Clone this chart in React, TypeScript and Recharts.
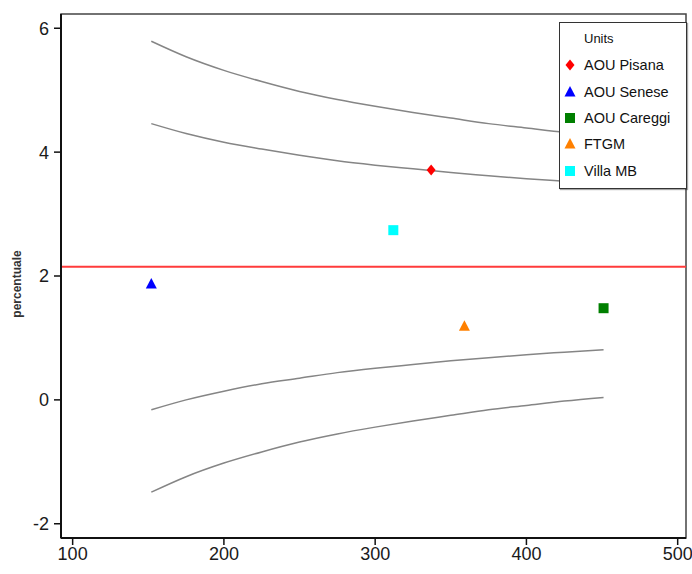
import React from "react";
import {
  ComposedChart,
  Line,
  Scatter,
  XAxis,
  YAxis,
  ReferenceLine,
  ReferenceArea,
  Legend,
  Label,
} from "recharts";

// Units: volume (x) and rate in percent (y)
const units = ["AOU Pisana", "AOU Senese", "AOU Careggi", "FTGM", "Villa MB"];
const volumes = [337, 152, 451, 359, 312];
const rates = [3.71, 1.87, 1.48, 1.19, 2.74];
const unitColors = ["#ff0000", "#0000ff", "#007f00", "#ff8000", "#00ffff"];
const unitShapes = ["diamond", "triangle", "square", "triangle", "square"];

// Overall rate
const meanRate = 2.15;

// Control limits of the funnel
const funnelN = [152, 175, 200, 225, 250, 275, 300, 325, 350, 375, 400, 425, 451];
const upper99 = [5.79, 5.54, 5.32, 5.14, 4.98, 4.85, 4.74, 4.64, 4.55, 4.46, 4.39, 4.32, 4.26];
const upper95 = [4.46, 4.3, 4.16, 4.05, 3.95, 3.86, 3.79, 3.73, 3.67, 3.62, 3.57, 3.53, 3.49];
const lower95 = [-0.16, 0.0, 0.14, 0.26, 0.35, 0.44, 0.51, 0.57, 0.63, 0.68, 0.73, 0.77, 0.81];
const lower99 = [-1.49, -1.24, -1.02, -0.84, -0.68, -0.55, -0.44, -0.34, -0.25, -0.16, -0.09, -0.02, 0.04];

const xTicks = [100, 200, 300, 400, 500];
const yTicks = [-2, 0, 2, 4, 6];
const xDomain = [92.3, 505.5];
const yDomain = [-2.23, 6.23];

const funnelRows = funnelN.map((n, i) => ({
  n,
  upper99: upper99[i],
  upper95: upper95[i],
  lower95: lower95[i],
  lower99: lower99[i],
}));

const FONT = "'Liberation Sans Narrow', 'Arial Narrow', 'Liberation Sans', Arial, sans-serif";
const LEGEND_FONT = "'Liberation Sans', Arial, sans-serif";

function Marker({ kind, cx, cy, color }: { kind: string; cx: number; cy: number; color: string }) {
  if (kind === "diamond") {
    return (
      <polygon
        points={`${cx},${cy - 5.5} ${cx + 4.5},${cy} ${cx},${cy + 5.5} ${cx - 4.5},${cy}`}
        fill={color}
      />
    );
  }
  if (kind === "triangle") {
    return (
      <polygon
        points={`${cx},${cy - 6} ${cx + 5.5},${cy + 4.5} ${cx - 5.5},${cy + 4.5}`}
        fill={color}
      />
    );
  }
  return <rect x={cx - 5} y={cy - 5} width={10} height={10} fill={color} />;
}

const renderLegend = () => (
  <div
    style={{
      width: 128,
      height: 167,
      boxSizing: "border-box",
      background: "#fff",
      border: "1.5px solid #333",
      boxShadow: "1px 1px 1px rgba(0,0,0,0.35)",
      paddingTop: 3,
      fontFamily: LEGEND_FONT,
      color: "#111",
    }}
  >
    <div style={{ height: 26.3, lineHeight: "26.3px", paddingLeft: 24, fontSize: 13 }}>Units</div>
    {units.map((u, i) => (
      <div
        key={u}
        style={{ height: 26.3, display: "flex", alignItems: "center", paddingLeft: 4, fontSize: 14.5 }}
      >
        <svg width={12} height={12} style={{ marginRight: 8 }}>
          <Marker kind={unitShapes[i]} cx={6} cy={6} color={unitColors[i]} />
        </svg>
        <span>{u}</span>
      </div>
    ))}
  </div>
);

const renderYLabel = (props: any) => {
  const vb = props.viewBox || {};
  const x = 17;
  const y = (vb.y ?? 14) + (vb.height ?? 524) / 2 + 8;
  return (
    <text
      x={x}
      y={y}
      transform={`rotate(-90 ${x} ${y})`}
      textAnchor="middle"
      dominantBaseline="central"
      fontFamily={LEGEND_FONT}
      fontSize={12}
      fontWeight="bold"
      fill="#333"
    >
      percentuale
    </text>
  );
};

export default function App() {
  const tickStyle = { fontFamily: FONT, fontSize: 18, fill: "#1a1a1a" };
  return (
    <div style={{ position: "absolute", left: 0, top: 0, background: "#fff" }}>
      <ComposedChart width={692} height={574} margin={{ top: 14, right: 6, bottom: 0, left: 0 }}>
        <XAxis
          type="number"
          dataKey="n"
          domain={xDomain}
          ticks={xTicks}
          allowDataOverflow
          height={36}
          axisLine={{ stroke: "#111", strokeWidth: 2 }}
          tickLine={{ stroke: "#111", strokeWidth: 1.5 }}
          tickSize={7}
          tickMargin={2}
          tick={tickStyle}
        />
        <YAxis
          type="number"
          domain={yDomain}
          ticks={yTicks}
          allowDataOverflow
          width={61}
          axisLine={{ stroke: "#111", strokeWidth: 2 }}
          tickLine={{ stroke: "#111", strokeWidth: 1.5 }}
          tickSize={7}
          tickMargin={5}
          tick={tickStyle}
        >
          <Label content={renderYLabel} />
        </YAxis>
        <ReferenceArea
          x1={xDomain[0]}
          x2={xDomain[1]}
          y1={yDomain[0]}
          y2={yDomain[1]}
          fill="none"
          stroke="#444"
          strokeWidth={1.5}
          ifOverflow="visible"
        />
        {(["upper99", "upper95", "lower95", "lower99"] as const).map((k) => (
          <Line
            key={k}
            data={funnelRows}
            dataKey={k}
            type="monotone"
            stroke="#858585"
            strokeWidth={1.5}
            dot={false}
            activeDot={false}
            isAnimationActive={false}
          />
        ))}
        <ReferenceLine y={meanRate} stroke="#ff3b3b" strokeWidth={2} />
        {units.map((u, i) => (
          <Scatter
            key={u}
            name={u}
            data={[{ n: volumes[i], v: rates[i] }]}
            dataKey="v"
            isAnimationActive={false}
            shape={(p: any) => (
              <Marker kind={unitShapes[i]} cx={p.cx} cy={p.cy} color={unitColors[i]} />
            )}
          />
        ))}
        <Legend
          layout="vertical"
          align="center"
          verticalAlign="middle"
          content={renderLegend}
          wrapperStyle={{ left: 559, top: 22, width: 128, height: 167 }}
        />
      </ComposedChart>
    </div>
  );
}
